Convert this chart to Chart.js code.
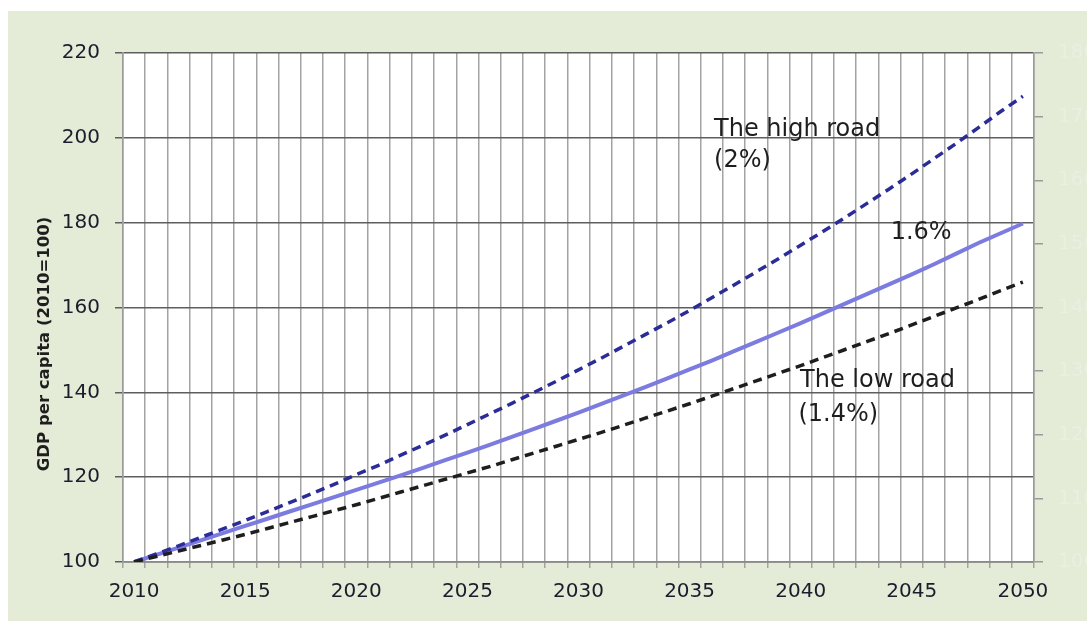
<!DOCTYPE html>
<html><head><meta charset="utf-8">
<script src="https://cdn.jsdelivr.net/npm/chart.js@4.4.1/dist/chart.umd.min.js"></script>
<style>
html,body{margin:0;padding:0;background:#fff;overflow:hidden;width:1087px;height:621px;}
#panel{position:absolute;left:8px;top:11px;width:1079px;height:610px;background:#e4ecd7;}
#wrap{position:absolute;left:0;top:0;width:1087px;height:621px;}
</style></head><body>
<div id="panel"></div>
<div id="wrap"><canvas id="c"></canvas></div>
<script>
const years = ['2010','2011','2012','2013','2014','2015','2016','2017','2018','2019',
  '2020','2021','2022','2023','2024','2025','2026','2027','2028','2029',
  '2030','2031','2032','2033','2034','2035','2036','2037','2038','2039',
  '2040','2041','2042','2043','2044','2045','2046','2047','2048','2049','2050'];
const xTickLabels = ['2010','2015','2020','2025','2030','2035','2040','2045','2050'];
const leftTicks = [100,120,140,160,180,200,220];
const rightTicks = [100,110,120,130,140,150,160,170,180];

const highRoad = [100,101.9,103.8,105.8,107.8,109.8,111.9,114.0,116.1,118.3,120.6,122.8,125.2,127.5,129.9,132.4,134.9,137.4,140.0,142.6,145.3,148.0,150.8,153.6,156.4,159.3,162.3,165.3,168.4,171.5,174.7,177.9,181.2,184.6,188.0,191.5,195.1,198.7,202.4,206.2,209.8];
const midPath = [100,101.7,103.4,105.1,106.8,108.5,110.2,111.9,113.6,115.3,117.0,118.7,120.4,122.2,124.0,125.8,127.6,129.5,131.4,133.3,135.2,137.2,139.2,141.2,143.3,145.4,147.5,149.7,151.9,154.1,156.3,158.6,160.9,163.2,165.5,167.8,170.2,172.7,175.2,177.5,179.8];
const lowRoad = [100,101.3,102.6,103.9,105.2,106.5,107.9,109.3,110.7,112.1,113.5,115.0,116.5,118.0,119.5,121.0,122.5,124.1,125.7,127.3,128.9,130.5,132.2,133.9,135.6,137.3,139.1,140.9,142.7,144.5,146.3,148.2,150.1,152.0,153.9,155.9,157.9,159.9,161.9,164.0,166.0];

const yTitle = 'GDP per capita (2010=100)';
const notes = [
  {text:'The high road', x:26.1, y:200.5},
  {text:'(2%)', x:26.1, y:193.2},
  {text:'1.6%', x:34.05, y:176.2},
  {text:'The low road', x:29.97, y:141.2},
  {text:'(1.4%)', x:29.9, y:133.2}
];

const bgPlugin = {
  id:'plotbg',
  beforeDraw(chart){
    const a = chart.chartArea, ctx = chart.ctx;
    ctx.save();
    ctx.fillStyle = '#ffffff';
    ctx.fillRect(a.left, a.top, a.right - a.left, a.bottom - a.top);
    ctx.restore();
  }
};

const textPlugin = {
  id:'texts',
  afterDraw(chart){
    const ctx = chart.ctx, xs = chart.scales.x, ys = chart.scales.y;
    ctx.save();
    ctx.fillStyle = '#1e1e1e';
    ctx.font = '24px "DejaVu Sans"';
    ctx.textAlign = 'left';
    ctx.textBaseline = 'alphabetic';
    notes.forEach(n => ctx.fillText(n.text, xs.getPixelForValue(n.x), ys.getPixelForValue(n.y)));
    ctx.translate(45, 344);
    ctx.rotate(-Math.PI/2);
    ctx.font = 'bold 16.5px "DejaVu Sans"';
    ctx.textAlign = 'center';
    ctx.textBaseline = 'middle';
    ctx.fillText(yTitle, 0, 0);
    ctx.restore();
  }
};

const tickFont = {family:'"DejaVu Sans"', size:20};
new Chart(document.getElementById('c'), {
  type:'line',
  data:{
    labels: years,
    datasets:[
      {label:'The low road', data: lowRoad, borderColor:'#1e1e1e', borderWidth:3.5, borderDash:[9,6], pointRadius:0, order:0, yAxisID:'y'},
      {label:'The high road', data: highRoad, borderColor:'#2c2c98', borderWidth:3.5, borderDash:[9,6], pointRadius:0, order:1, yAxisID:'y'},
      {label:'1.6%', data: midPath, borderColor:'#7b7be0', borderWidth:4, pointRadius:0, order:2, yAxisID:'y'}
    ]
  },
  options:{
    responsive:true, maintainAspectRatio:false, animation:false, devicePixelRatio:1,
    layout:{padding:{left:0, right:0, top:53, bottom:0}},
    plugins:{legend:{display:false}, tooltip:{enabled:false}},
    scales:{
      x:{
        type:'category', offset:true,
        grid:{offset:true, color:'#a3a3a3', lineWidth:1.5, tickLength:6},
        border:{color:'#8a8a8a', width:1.5},
        ticks:{autoSkip:false, maxRotation:0, minRotation:0, padding:12, color:'#1c1c2c', font:tickFont,
          callback:function(v){const l=this.getLabelForValue(v); return xTickLabels.includes(l)?l:'';}},
        afterFit(s){ s.height = 59; }
      },
      y:{
        position:'left', min:100, max:220,
        afterBuildTicks(s){ s.ticks = leftTicks.map(v=>({value:v})); },
        grid:{color:'#5e5e5e', lineWidth:1.5, tickLength:8},
        border:{color:'#9a9a9a', width:1.5},
        ticks:{padding:15, color:'#1c1c2c', font:tickFont},
        afterFit(s){ s.width = 123; }
      },
      y2:{
        position:'right', min:100, max:180,
        afterBuildTicks(s){ s.ticks = rightTicks.map(v=>({value:v})); },
        grid:{drawOnChartArea:false, color:'#9a9a9a', lineWidth:1.5, tickLength:9},
        border:{color:'#9a9a9a', width:1.5},
        ticks:{padding:15, color:'#e9efe1', font:tickFont},
        afterFit(s){ s.width = 53; }
      }
    }
  },
  plugins:[bgPlugin, textPlugin]
});
</script>
</body></html>
